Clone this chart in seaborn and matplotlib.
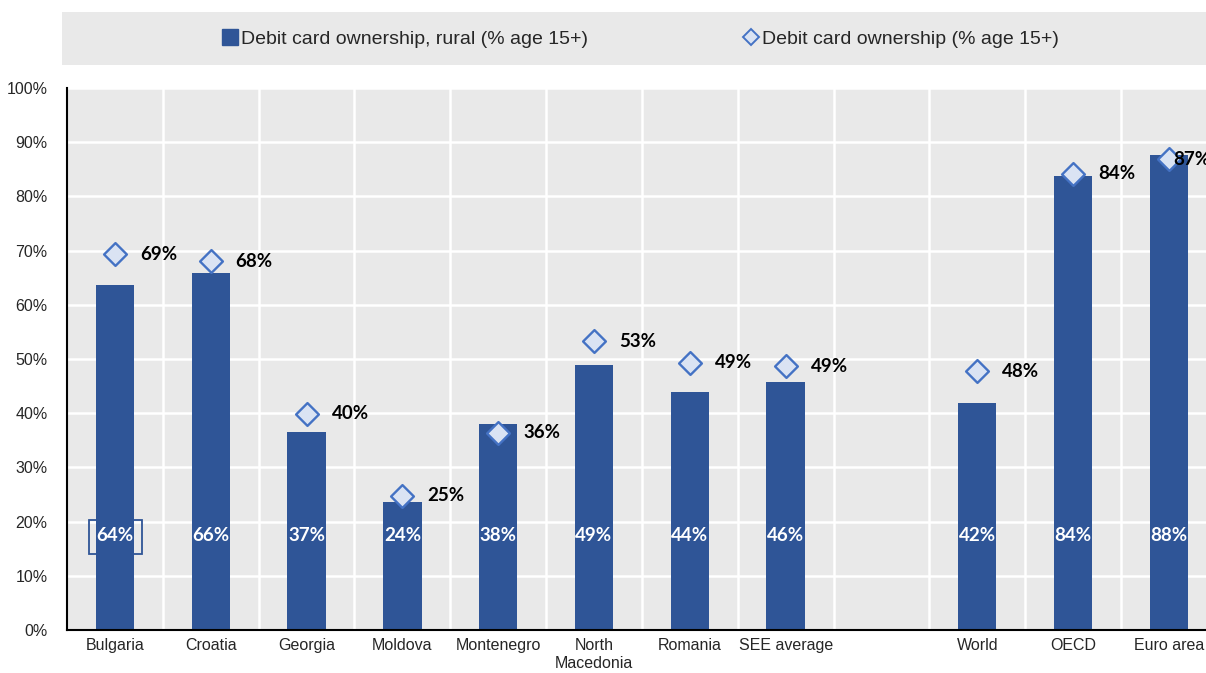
import matplotlib
matplotlib.use("Agg")
import matplotlib.pyplot as plt
from matplotlib.lines import Line2D
from matplotlib.patches import Rectangle
from matplotlib import font_manager as fm
import seaborn as sns
import pandas as pd
import numpy as np

categories = ["Bulgaria", "Croatia", "Georgia", "Moldova", "Montenegro",
              "North Macedonia", "Romania", "SEE average", "World", "OECD", "Euro area"]
tick_labels = ["Bulgaria", "Croatia", "Georgia", "Moldova", "Montenegro",
               "North\nMacedonia", "Romania", "SEE average", "", "World", "OECD", "Euro area"]
rural = [63.6, 65.9, 36.6, 23.6, 38.0, 48.9, 43.9, 45.8, 41.9, 83.8, 87.6]
total = [69.3, 68.0, 39.9, 24.8, 36.4, 53.3, 49.3, 48.7, 47.7, 84.2, 86.9]
order = categories[:8] + ["gap"] + categories[8:]

BAR = "#2F5597"
DFACE = "#DAE3F3"
DEDGE = "#4472C4"
BG = "#E9E9E9"

try:
    fm.findfont(fm.FontProperties(family="Liberation Sans Narrow"), fallback_to_default=False)
    NARROW = True
except Exception:
    NARROW = False

sns.set_style("white")
if NARROW:
    plt.rcParams["font.family"] = ["Liberation Sans Narrow", "DejaVu Sans"]
    TICK_FS, LEG_FS = 13.5, 17
else:
    plt.rcParams["font.family"] = ["Liberation Sans", "DejaVu Sans"]
    TICK_FS, LEG_FS = 11.5, 14

df = pd.DataFrame({"country": categories, "rural": rural, "total": total})
df["pos"] = [order.index(c) for c in categories]

fig = plt.figure(figsize=(12.06, 6.73), dpi=100)
ax = fig.add_axes([67 / 1206, 1 - 630 / 673, 1 - 67 / 1206, (630 - 88) / 673])
ax.set_facecolor(BG)

sns.barplot(data=df, x="country", y="rural", order=order, color=BAR,
            saturation=1, width=0.4, ax=ax, zorder=3, linewidth=0)

sns.scatterplot(x=df["pos"], y=df["total"], marker="D", s=135, color=DFACE,
                edgecolor=DEDGE, linewidth=1.7, ax=ax, zorder=4)

lab_font = ["Lato", "DejaVu Sans"]
n = len(df)
for i, (p, r, t) in enumerate(zip(df["pos"], df["rural"], df["total"])):
    ax.text(p, 17.5, f"{int(r + 0.5)}%", ha="center", va="center", color="white",
            fontsize=13.5, fontweight="bold", family=lab_font, zorder=5)
    off = 4 if i == n - 1 else 25
    ax.annotate(f"{int(t + 0.5)}%", (p, t), xytext=(off, 0), textcoords="offset pixels",
                ha="left", va="center", color="black", fontsize=13.5,
                fontweight="bold", family=lab_font, zorder=5, annotation_clip=False)

# selection-style box around first label
ax.add_patch(Rectangle((-0.27, 14.0), 0.55, 6.3, fill=False, edgecolor=BAR,
                       linewidth=1.3, zorder=2))

ax.set_yticks(np.arange(0, 101, 10))
ax.set_yticklabels([f"{v}%" for v in range(0, 101, 10)])
ax.set_xticks(range(len(order)))
ax.set_xticklabels(tick_labels)
ax.set_xticks(np.arange(0.5, len(order) - 1, 1), minor=True)
ax.tick_params(axis="x", which="major", length=0, pad=6, labelsize=TICK_FS)
ax.tick_params(axis="x", which="minor", direction="in", length=5, width=1.2, color="black")
ax.tick_params(axis="y", direction="in", length=5, width=1.2, color="black", pad=14,
               labelsize=TICK_FS)
ax.set_xlabel("")
ax.set_ylabel("")
ax.set_ylim(0, 100)
ax.set_xlim(-0.5, 0.5 + (1206 - 163) / 95.8)

ax.grid(False)
ax.yaxis.grid(True, color="white", linewidth=1.8, zorder=1)
ax.xaxis.grid(True, which="minor", color="white", linewidth=1.8, zorder=1)
ax.set_axisbelow(True)
for s in ["top", "right"]:
    ax.spines[s].set_visible(False)
for s in ["left", "bottom"]:
    ax.spines[s].set_color("black")
    ax.spines[s].set_linewidth(1.5)
    ax.spines[s].set_zorder(6)

# legend band
fig.patches.append(Rectangle((62 / 1206, 1 - 65 / 673), 1 - 62 / 1206, 53 / 673,
                             transform=fig.transFigure, facecolor=BG, edgecolor="none",
                             zorder=0))
handles = [Line2D([], [], marker="s", linestyle="none", markersize=11,
                  markerfacecolor=BAR, markeredgecolor=BAR),
           Line2D([], [], marker="D", linestyle="none", markersize=8,
                  markerfacecolor=DFACE, markeredgecolor=DEDGE, markeredgewidth=1.4)]
fig.legend(handles, ["Debit card ownership, rural (% age 15+)", "Debit card ownership (% age 15+)"],
           loc="center", bbox_to_anchor=(641 / 1206, 1 - 39 / 673), ncol=2, frameon=False,
           fontsize=LEG_FS, handlelength=0.7, handletextpad=0.25,
           columnspacing=8.0 * 14 / LEG_FS)

fig.savefig("out.png", dpi=100)
